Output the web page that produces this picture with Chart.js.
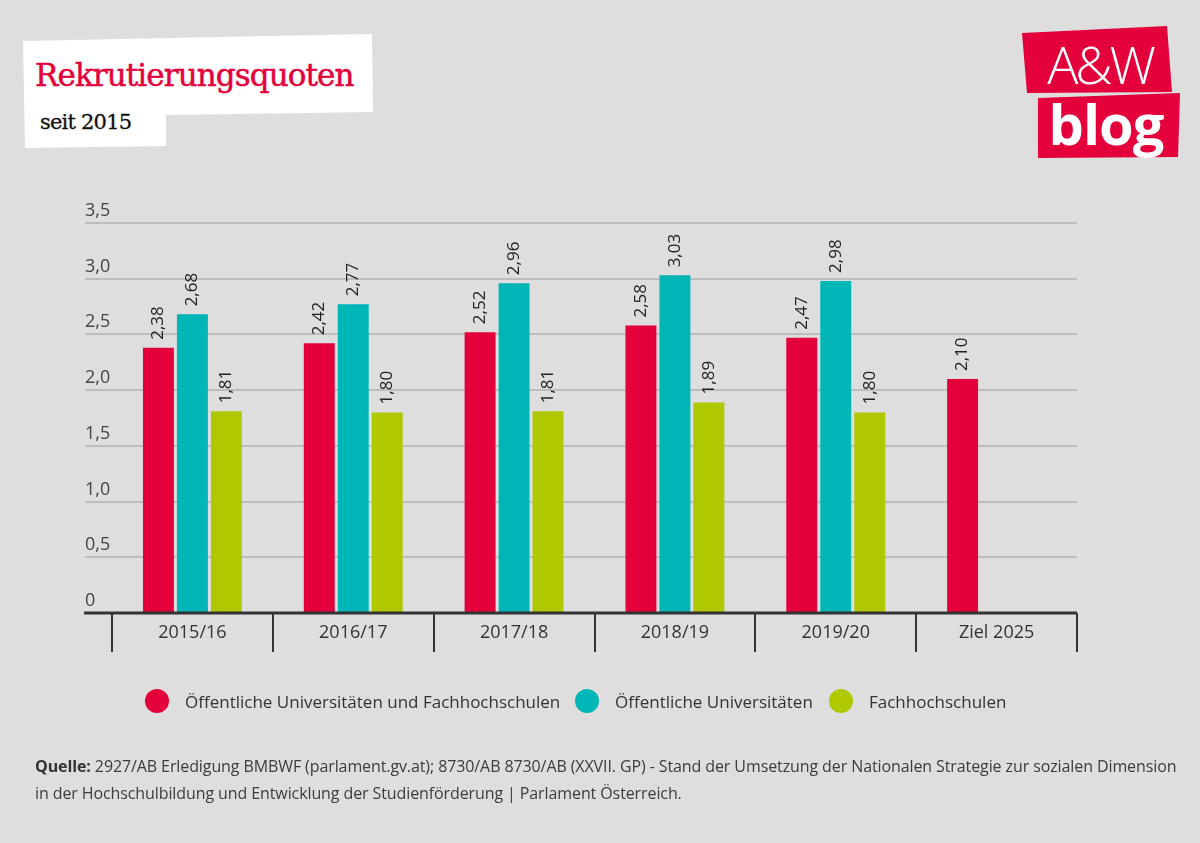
<!DOCTYPE html>
<html lang="de">
<head>
<meta charset="utf-8">
<script src="https://cdn.jsdelivr.net/npm/chart.js@4/dist/chart.umd.min.js"></script>
<style>
  html, body { margin: 0; padding: 0; }
  body { width: 1200px; height: 843px; background: #dedede; position: relative; overflow: hidden; font-family: "Open Sans", sans-serif; }
  #deko { position: absolute; left: 0; top: 0; }
  #titel { position: absolute; left: 35px; top: 57px; font-family: "DejaVu Serif", serif; font-size: 31px; color: #e4003b; letter-spacing: -0.9px; -webkit-text-stroke: 0.5px #e4003b; }
  #untertitel { position: absolute; left: 40px; top: 110px; font-family: "DejaVu Serif", serif; font-size: 21px; color: #111; letter-spacing: -0.8px; -webkit-text-stroke: 0.3px #111; }
  #wrap { position: absolute; left: 0; top: 0; width: 1200px; height: 843px; }
  .leg { position: absolute; top: 689px; display: flex; align-items: center; font-size: 17px; color: #333; white-space: nowrap; }
  .leg span.dot { width: 24px; height: 24px; border-radius: 50%; margin-right: 16px; display: inline-block; }
  #quelle { position: absolute; left: 35px; top: 753px; font-family: "Open Sans", sans-serif; font-size: 16px; line-height: 27px; color: #3c3c3c; white-space: nowrap; letter-spacing: -0.1px; }
  #quelle b { color: #333; }
</style>
</head>
<body>
<svg id="deko" width="1200" height="843">
  <polygon points="23,41 372,34 373,112 166,115 166,146 25,148" fill="#ffffff"/>
  <polygon points="1022,33 1167,26 1172,92 1027,93" fill="#e4003b"/>
  <polygon points="1038,98 1180,93 1178,157 1038,158" fill="#e4003b"/>
  <text x="1100" y="84" text-anchor="middle" font-family="Open Sans" font-weight="300" font-size="52" fill="#fff" letter-spacing="-3">A&amp;W</text>
  <text x="1106" y="145" text-anchor="middle" font-family="Open Sans" font-weight="700" font-size="56" fill="#fff" letter-spacing="-1">blog</text>
</svg>
<div id="titel">Rekrutierungsquoten</div>
<div id="untertitel">seit 2015</div>
<div id="wrap"><canvas id="chart"></canvas></div>
<div id="legende"></div>
<div id="quelle"><b>Quelle:</b> 2927/AB Erledigung BMBWF (parlament.gv.at); 8730/AB 8730/AB (XXVII. GP) - Stand der Umsetzung der Nationalen Strategie zur sozialen Dimension<br>in der Hochschulbildung und Entwicklung der Studienförderung | Parlament Österreich.</div>
<script>
// Daten
const jahre = ['2015/16', '2016/17', '2017/18', '2018/19', '2019/20', 'Ziel 2025'];
const serien = ['Öffentliche Universitäten und Fachhochschulen', 'Öffentliche Universitäten', 'Fachhochschulen'];
const quoteGesamt = [2.38, 2.42, 2.52, 2.58, 2.47, 2.10];
const quoteUni = [2.68, 2.77, 2.96, 3.03, 2.98, null];
const quoteFH = [1.81, 1.80, 1.81, 1.89, 1.80, null];
const yTicks = [0, 0.5, 1.0, 1.5, 2.0, 2.5, 3.0, 3.5];
const farben = ['#e4003b', '#00b6b7', '#afc800'];

const legendeLinks = [145, 575, 829];

// y-Beschriftung über den Linien, Grundlinie und Werte an den Balken
const extras = {
    id: 'extras',
    afterDatasetsDraw(chart) {
        const ctx = chart.ctx;
        const y = chart.scales.y;
        const x = chart.scales.x;
        ctx.save();
        ctx.font = '18px "Open Sans"';
        ctx.fillStyle = '#444';
        ctx.textAlign = 'left';
        ctx.textBaseline = 'alphabetic';
        yTicks.forEach(function(t) {
            ctx.fillText(t === 0 ? '0' : t.toFixed(1).replace('.', ','), 85, y.getPixelForValue(t) - 7);
        });
        ctx.strokeStyle = '#333';
        ctx.lineWidth = 3;
        ctx.beginPath();
        ctx.moveTo(84, y.getPixelForValue(0));
        ctx.lineTo(x.right, y.getPixelForValue(0));
        ctx.stroke();

        ctx.font = '17px "Open Sans"';
        ctx.fillStyle = '#222';
        ctx.textBaseline = 'middle';
        chart.data.datasets.forEach(function(ds, i) {
            chart.getDatasetMeta(i).data.forEach(function(bar, j) {
                const v = ds.data[j];
                if (v === null) return;
                ctx.save();
                ctx.translate(bar.x, bar.y - 8);
                ctx.rotate(-Math.PI / 2);
                ctx.fillText(v.toFixed(2).replace('.', ','), 0, 0);
                ctx.restore();
            });
        });
        ctx.restore();
    }
};

const ctx = document.getElementById('chart').getContext('2d');
new Chart(ctx, {
    type: 'bar',
    data: {
        labels: jahre,
        datasets: [
            { label: serien[0], data: quoteGesamt, backgroundColor: farben[0] },
            { label: serien[1], data: quoteUni, backgroundColor: farben[1] },
            { label: serien[2], data: quoteFH, backgroundColor: farben[2] }
        ]
    },
    options: {
        responsive: true,
        maintainAspectRatio: false,
        animation: false,
        barPercentage: 0.91,
        categoryPercentage: 0.634,
        layout: { padding: { left: 85, right: 123, top: 223, bottom: 0 } },
        plugins: {
            legend: { display: false },
            tooltip: { enabled: false }
        },
        scales: {
            y: {
                min: 0,
                max: 3.5,
                ticks: { display: false, stepSize: 0.5 },
                grid: { color: '#bdbdbd', lineWidth: 2, drawTicks: true, tickLength: 27 },
                border: { display: false },
                afterFit: function(s) { s.width = 27; }
            },
            x: {
                grid: { offset: true, drawOnChartArea: false, drawTicks: true, tickLength: 39, color: '#333', lineWidth: 2 },
                border: { display: false },
                ticks: { color: '#333', font: { family: 'Open Sans', size: 18 }, padding: -30 },
                afterFit: function(s) { s.height = 230; }
            }
        }
    },
    plugins: [extras]
});

// Legende
const leg = document.getElementById('legende');
serien.forEach(function(name, i) {
    const d = document.createElement('div');
    d.className = 'leg';
    d.style.left = legendeLinks[i] + 'px';
    d.innerHTML = '<span class="dot" style="background:' + farben[i] + '"></span>' + name;
    leg.appendChild(d);
});
</script>
</body>
</html>
